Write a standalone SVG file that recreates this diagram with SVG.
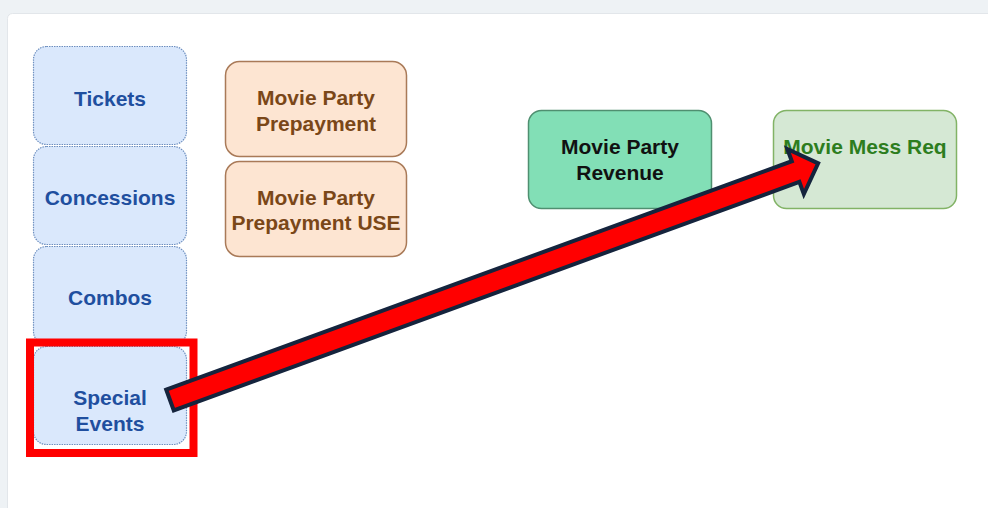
<svg xmlns="http://www.w3.org/2000/svg" width="988" height="508" viewBox="0 0 988 508">
<style>
.t{font-family:"Liberation Sans",Arial,sans-serif;font-weight:bold;font-size:21px;text-anchor:middle}
.blue rect{fill:#dae8fc;stroke:#6c8ebf;stroke-width:1.2;stroke-dasharray:1.5 1}
.blue text{fill:#1f4f9f}
.org rect{fill:#fde5d2;stroke:#a97a58;stroke-width:1.5}
.org text{fill:#7a4718}
</style>
<rect x="0" y="0" width="988" height="508" fill="#eef2f5"/>
<rect x="7.5" y="13.5" width="990" height="500" rx="5" fill="#ffffff" stroke="#e2e6ea"/>
<g id="tickets" class="blue"><rect x="33.5" y="46.5" width="153" height="98" rx="13"/><text class="t" x="110" y="106">Tickets</text></g>
<g id="concessions" class="blue"><rect x="33.5" y="146.5" width="153" height="98" rx="13"/><text class="t" x="110" y="205">Concessions</text></g>
<g id="combos" class="blue"><rect x="33.5" y="246.5" width="153" height="98" rx="13"/><text class="t" x="110" y="305">Combos</text></g>
<g id="special-events" class="blue"><rect x="33.5" y="346.5" width="153" height="98" rx="13"/><text class="t" x="110" y="405">Special</text><text class="t" x="110" y="431">Events</text></g>
<g id="highlight"><rect x="30" y="342.5" width="163.5" height="110.5" fill="none" stroke="#ff0000" stroke-width="8"/></g>
<g id="mp-prepayment" class="org"><rect x="225.5" y="61.5" width="181" height="95" rx="14"/><text class="t" x="316" y="105">Movie Party</text><text class="t" x="316" y="131">Prepayment</text></g>
<g id="mp-prepayment-use" class="org"><rect x="225.5" y="161.5" width="181" height="95" rx="14"/><text class="t" x="316" y="205">Movie Party</text><text class="t" x="316" y="230">Prepayment USE</text></g>
<g id="mp-revenue"><rect x="528.5" y="110.5" width="183" height="98" rx="13" fill="#82dfb6" stroke="#4f8f70" stroke-width="1.5"/><text class="t" x="620" y="154" fill="#111111">Movie Party</text><text class="t" x="620" y="180" fill="#111111">Revenue</text></g>
<g id="movie-mess-req"><rect x="773.5" y="110.5" width="183" height="98" rx="13" fill="#d5e8d4" stroke="#82b366" stroke-width="1.5"/><text class="t" x="865" y="154" fill="#2d7d1e">Movie Mess Req</text></g>
<g id="connectors">
<polygon transform="translate(170,400) rotate(-20.06)" points="0,-11 666,-11 666,-24 690,0 666,24 666,11 0,11" fill="#ff0000" stroke="#15243d" stroke-width="4" stroke-linejoin="miter"/>
</g>
</svg>
